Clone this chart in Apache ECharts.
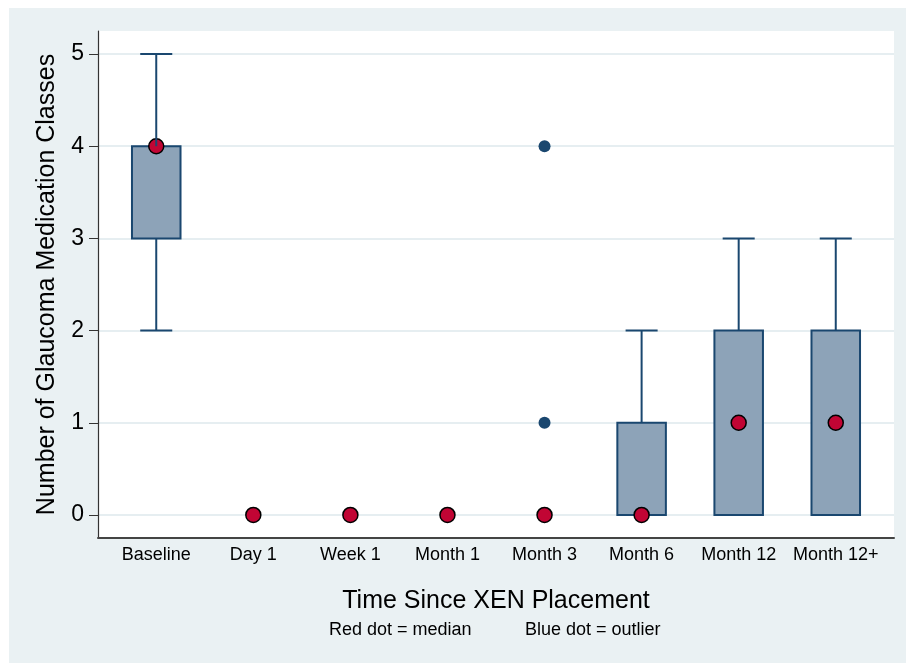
<!DOCTYPE html>
<html>
<head>
<meta charset="utf-8">
<title>Glaucoma medication classes after XEN placement</title>
<script src="https://cdn.jsdelivr.net/npm/echarts@6/dist/echarts.min.js"></script>
<style>
  html, body { margin: 0; padding: 0; background: #ffffff; }
  #chart { width: 906px; height: 663px; }
</style>
</head>
<body>
<div id="chart"></div>
<script>
// Time points after XEN placement
const categories = ['Baseline', 'Day 1', 'Week 1', 'Month 1', 'Month 3', 'Month 6', 'Month 12', 'Month 12+'];
// Box plot summaries per time point
const lowerWhisker = [2, 0, 0, 0, 0, 0, 0, 0];
const q1Values     = [3, 0, 0, 0, 0, 0, 0, 0];
const q3Values     = [4, 0, 0, 0, 0, 1, 2, 2];
const upperWhisker = [5, 0, 0, 0, 0, 2, 3, 3];
const medians      = [4, 0, 0, 0, 0, 0, 1, 1];
// Outliers as [time point index, value]
const outliers = [[4, 1], [4, 4]];
const yTicks = [0, 1, 2, 3, 4, 5];

const FONT = "'Liberation Sans', Arial, Helvetica, sans-serif";
const NAVY = '#1A476F';
const BOX_FILL = '#8DA3B8';
const RED = '#C10534';
const PANEL = '#EAF1F3';
const BOX_HALF = 0.25;
const CAP_HALF = 0.165;

const boxData = categories.map((c, i) => [i, lowerWhisker[i], q1Values[i], q3Values[i], upperWhisker[i]]);
const medianData = categories.map((c, i) => [i, medians[i]]);

function renderBox(params, api) {
  const x = api.value(0);
  const q1 = api.value(2), q3 = api.value(3);
  if (q3 === q1) return null;
  const tl = api.coord([x - BOX_HALF, q3]);
  const br = api.coord([x + BOX_HALF, q1]);
  return {
    type: 'rect',
    shape: { x: tl[0], y: tl[1], width: br[0] - tl[0], height: br[1] - tl[1] },
    style: { fill: BOX_FILL, stroke: NAVY, lineWidth: 2 }
  };
}

function renderWhiskers(params, api) {
  const x = api.value(0);
  const lw = api.value(1), q1 = api.value(2), q3 = api.value(3), uw = api.value(4);
  const children = [];
  const style = { stroke: NAVY, lineWidth: 2 };
  function whisker(from, to) {
    if (from === to) return;
    const a = api.coord([x, from]);
    const b = api.coord([x, to]);
    const cl = api.coord([x - CAP_HALF, to]);
    const cr = api.coord([x + CAP_HALF, to]);
    children.push({ type: 'line', shape: { x1: a[0], y1: a[1], x2: b[0], y2: b[1] }, style: style });
    children.push({ type: 'line', shape: { x1: cl[0], y1: cl[1], x2: cr[0], y2: cr[1] }, style: style });
  }
  whisker(q3, uw);
  whisker(q1, lw);
  return { type: 'group', children: children };
}

const chart = echarts.init(document.getElementById('chart'), null, { renderer: 'canvas' });

chart.setOption({
  animation: false,
  backgroundColor: 'transparent',
  textStyle: { fontFamily: FONT },
  graphic: [
    {
      type: 'rect', z: -10, silent: true,
      shape: { x: 9, y: 8, width: 897, height: 655 },
      style: { fill: PANEL }
    },
    {
      type: 'text', left: 329, top: 621,
      style: { text: 'Red dot = median', font: '18px ' + FONT, fill: '#000' }
    },
    {
      type: 'text', left: 525, top: 621,
      style: { text: 'Blue dot = outlier', font: '18px ' + FONT, fill: '#000' }
    }
  ],
  grid: {
    left: 98, top: 31, right: 12, bottom: 125,
    show: true, backgroundColor: '#ffffff', borderWidth: 0
  },
  xAxis: {
    type: 'value',
    min: -0.6, max: 7.6,
    name: 'Time Since XEN Placement',
    nameLocation: 'middle',
    nameGap: 51,
    nameTextStyle: { fontSize: 25, color: '#000', fontFamily: FONT },
    axisLine: { show: true, onZero: false, lineStyle: { color: '#444', width: 2 } },
    axisTick: { show: false },
    splitLine: { show: false },
    axisLabel: {
      customValues: categories.map((c, i) => i),
      formatter: v => categories[v],
      fontSize: 18, color: '#000', margin: 8, fontFamily: FONT
    }
  },
  yAxis: {
    type: 'value',
    min: -0.25, max: 5.25,
    name: 'Number of Glaucoma Medication Classes',
    nameLocation: 'middle',
    nameGap: 38,
    nameTextStyle: { fontSize: 25, color: '#000', fontFamily: FONT },
    axisLine: { show: true, onZero: false, lineStyle: { color: '#333', width: 1.2 } },
    axisTick: { show: true, customValues: yTicks, length: 9, lineStyle: { color: '#333', width: 1 } },
    splitLine: { show: true, lineStyle: { color: '#E6EEF1', width: 2 } },
    axisLabel: { customValues: yTicks, fontSize: 23, color: '#000', margin: 14, fontFamily: FONT }
  },
  series: [
    {
      name: 'Interquartile range',
      type: 'custom',
      renderItem: renderBox,
      encode: { x: 0, y: [1, 2, 3, 4] },
      data: boxData,
      z: 2
    },
    {
      name: 'Outlier',
      type: 'scatter',
      data: outliers,
      symbol: 'circle',
      symbolSize: 12,
      itemStyle: { color: NAVY, opacity: 1 },
      z: 3
    },
    {
      name: 'Median',
      type: 'scatter',
      data: medianData,
      symbol: 'circle',
      symbolSize: 15,
      itemStyle: { color: RED, borderColor: '#000', borderWidth: 1.5, opacity: 1 },
      z: 4
    },
    {
      name: 'Whiskers',
      type: 'custom',
      renderItem: renderWhiskers,
      encode: { x: 0, y: [1, 2, 3, 4] },
      data: boxData,
      z: 5
    }
  ]
});
</script>
</body>
</html>
